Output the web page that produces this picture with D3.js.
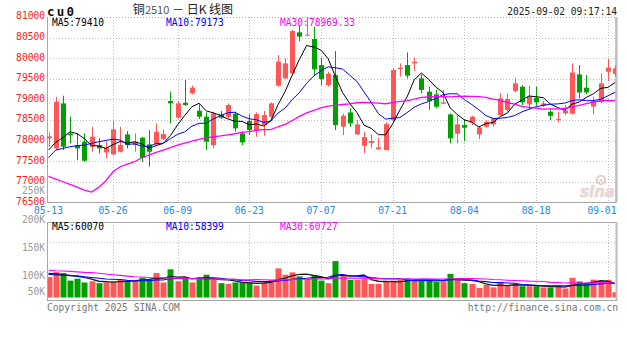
<!DOCTYPE html>
<html>
<head>
<meta charset="utf-8">
<script src="https://cdn.jsdelivr.net/npm/d3@7"></script>
<style>
  html, body { margin: 0; padding: 0; background: #fff; }
  svg { display: block; }
  text { font-family: "DejaVu Sans Mono", "Liberation Mono", monospace; }
</style>
</head>
<body>
<svg id="chart" width="627" height="342"></svg>
<script>
// ---- trading days shown (cu0 daily) ----
const dates = [
  "05-13","05-14","05-15","05-16","05-19","05-20","05-21","05-22","05-23","05-26",
  "05-27","05-28","05-29","05-30","06-03","06-04","06-05","06-06","06-09","06-10",
  "06-11","06-12","06-13","06-16","06-17","06-18","06-19","06-20","06-23","06-24",
  "06-25","06-26","06-27","06-30","07-01","07-02","07-03","07-04","07-07","07-08",
  "07-09","07-10","07-11","07-14","07-15","07-16","07-17","07-18","07-21","07-22",
  "07-23","07-24","07-25","07-28","07-29","07-30","07-31","08-01","08-04","08-05",
  "08-06","08-07","08-08","08-11","08-12","08-13","08-14","08-15","08-18","08-19",
  "08-20","08-21","08-22","08-25","08-26","08-27","08-28","08-29","09-01","09-02"
];

const openPrices = [
  78055,77812,78904,78175,77893,77974,77853,77893,77715,77667,
  77732,78152,77893,78071,77910,77910,78039,78961,78557,78920,
  79147,78727,78581,77893,78638,78581,78654,78176,78476,78257,
  78379,78581,79333,79511,79633,80628,80555,80466,79835,79350,
  79592,78338,78686,78152,77877,77942,77796,77772,78500,79738,
  79835,79875,79511,79188,79123,78897,78638,78168,78379,78435,
  78152,78338,78395,78621,78743,79204,79309,78880,79042,78848,
  78702,78500,78662,78654,79608,79285,78824,78945,79673,79617
];
const highPrices = [
  78200,79066,79090,78580,78177,78177,78338,78056,77974,78476,
  78338,78233,78177,78095,78257,78419,78273,79188,78961,79471,
  79334,78880,78686,78702,78718,78905,78702,78233,78638,78686,
  78719,78929,80078,79997,80684,80806,81000,80765,80013,79673,
  80175,78654,78783,78500,78217,78152,78071,78444,79754,79875,
  80142,80013,79608,79309,79228,79228,78662,78605,78525,78605,
  78338,78492,78541,79147,79147,79528,79350,79334,79309,78961,
  78767,78702,78864,79875,79835,79592,79066,79633,79981,79819
];
const lowPrices = [
  77860,77772,77772,77935,77529,77489,77732,77692,77570,77651,
  77715,77812,77732,77489,77368,77893,78015,78419,78540,78848,
  79123,78525,77772,77812,78525,78540,78217,77893,78136,78096,
  78120,78540,79309,79495,79608,80418,80539,79592,79350,79309,
  78257,78136,78338,78136,77691,77812,77772,77772,78476,79552,
  79511,79689,79147,78743,78783,78880,77934,77934,77990,78379,
  78039,78314,78338,78605,78702,79171,78864,78743,78848,78816,
  78500,78444,78621,78638,79026,79123,78638,78905,79447,79552
];
const closePrices = [
  78103,78945,77853,78130,77812,77513,78096,77813,77829,78274,
  77893,77893,77974,77586,77732,78217,78160,78905,78905,78864,
  79285,78581,77974,78662,78557,78864,78298,77958,78257,78646,
  78621,78905,79916,79875,80660,80523,80571,79730,79495,79625,
  78379,78605,78419,78395,78087,77990,77837,78403,79713,79770,
  79576,79916,79228,78961,78824,78929,78055,78395,78314,78581,
  78322,78460,78536,79026,79010,79390,78929,79066,78929,78905,
  78603,78525,78732,79654,79169,79171,78961,79390,79770,79754
];
const volumes = [
  87000,108000,104000,72000,80000,64000,69000,61000,65000,68000,
  75000,72000,75000,84000,78000,104000,64000,120000,69000,80000,
  64000,84000,97000,75000,61000,58000,64000,65000,65000,51000,
  64000,75000,124000,97000,107000,90000,80000,94000,72000,61000,
  155000,94000,75000,75000,80000,58000,58000,69000,72000,75000,
  80000,78000,78000,72000,66000,69000,100820,76000,61000,58000,
  41000,54000,43000,65000,51000,58000,48000,48000,48000,43000,
  42500,50700,38500,83800,68140,58000,76000,70000,74000,22350
];

// moving-average values for the first days, whose windows start before 05-13
const ma5Lead  = [77772,77958,78071,78217];
const ma10Lead = [77586,77772,77812,77853,77877,77893,77934,77974,78006];
const ma30Lead = [77133,77068,77003,76939,76874,76800,76752,76866,77028,77246,
                  77368,77432,77489,77586,77651,77715,77772,77829,77893,77940,
                  77990,78030,78070,78095,78115,78140,78168,78201,78217];
const volMa5Lead  = [103000,100000,97000,94000];
const volMa10Lead = [98000,97000,95000,93000,92000,88000,85000,82000,79000];
const volMa30Lead = [116000,114000,113000,111000,109000,107000,106000,103000,100000,97000,
                     94000,91000,88000,87000,85000,84000,84000,82000,82000,81000,
                     81000,80000,80000,78000,78000,77000,77000,75000,75000];

const priceTicks = [81000,80500,80000,79500,79000,78500,78000,77500,77000,76500];
const dateTicks = ["05-13","05-26","06-09","06-23","07-07","07-21","08-04","08-18","09-01"];
const volTicks = [250000,200000,150000,100000,50000];
const volTickText = ["250K","200K","150K","100K","50K"];

const priceMaText = ["MA5:79410","MA10:79173","MA30:78969.33"];
const volMaText = ["MA5:60070","MA10:58399","MA30:60727"];

// ---- layout ----
const plotL = 47, plotR = 616;
const priceTop = 17, priceBottom = 202.5;
const volTop = 222, volBottom = 300, volBase = 297.5;

const RED = "#ff5757", GREEN = "#00a000";
const MA_COLORS = ["#000000", "#0000ff", "#ff00ff"];
const GRID = "#bdbdbd";

const svg = d3.select("#chart");

const x = d3.scalePoint().domain(dates).range([48.5, 615]);
const y = d3.scaleLinear().domain([76500, 81000]).range([priceBottom, priceTop]);
const yVol = d3.scaleLinear().domain([0, 100000]).range([volBase, volBase - 23.5]);
// the volume axis labels sit at fixed slots down the left margin
const yVolLabel = d3.scaleLinear().domain([50000,100000,150000,200000,250000]).range([292,276,248,220,191]);

function movingAverage(values, n, lead) {
  return values.map((_, i) => i < n - 1 ? lead[i] : d3.mean(values.slice(i - n + 1, i + 1)));
}

const defs = svg.append("defs");
defs.append("clipPath").attr("id", "clipPrice")
  .append("rect").attr("x", plotL).attr("y", priceTop - 4).attr("width", plotR - plotL).attr("height", priceBottom - priceTop + 4);
defs.append("clipPath").attr("id", "clipVol")
  .append("rect").attr("x", plotL).attr("y", volTop).attr("width", plotR - plotL).attr("height", volBottom - volTop);

// ---- header ----
svg.append("text").attr("x", 47).attr("y", 15.5)
  .attr("font-size", 12.5).attr("font-weight", "bold").attr("letter-spacing", 2.2)
  .attr("fill", "#111").text("cu0");

const title = svg.append("text").attr("x", 183).attr("y", 13.5).attr("text-anchor", "middle")
  .attr("font-size", 12).attr("fill", "#222")
  .style("font-family", "'Noto Sans CJK SC', sans-serif");
title.append("tspan").text("铜");
title.append("tspan").attr("fill", "#555").attr("font-size", 11).text("2510");
title.append("tspan").text(" － 日K 线图");

svg.append("text").attr("x", 617).attr("y", 15).attr("text-anchor", "end")
  .attr("font-size", 9.6).attr("fill", "#222").text("2025-09-02 09:17:14");

// ---- price panel grid ----
const gPrice = svg.append("g");
gPrice.selectAll("line.h").data(priceTicks.slice(1, -1)).join("line")
  .attr("x1", plotL).attr("x2", plotR)
  .attr("y1", d => Math.round(y(d)) + 0.5).attr("y2", d => Math.round(y(d)) + 0.5)
  .attr("stroke", GRID).attr("stroke-dasharray", "1,2");
gPrice.selectAll("line.v").data(dateTicks.slice(1)).join("line")
  .attr("x1", d => Math.round(x(d)) + 0.5).attr("x2", d => Math.round(x(d)) + 0.5)
  .attr("y1", priceTop).attr("y2", priceBottom)
  .attr("stroke", GRID).attr("stroke-dasharray", "1,2");
// frame: dotted top edge, solid remaining edges
gPrice.append("line").attr("x1", plotL).attr("x2", plotR).attr("y1", priceTop + 0.5).attr("y2", priceTop + 0.5)
  .attr("stroke", "#aaa").attr("stroke-dasharray", "1,2");
gPrice.append("path")
  .attr("d", `M${plotL + 0.5},${priceTop}V${priceBottom}H${plotR}V${priceTop}`)
  .attr("fill", "none").attr("stroke", "#a8a8a8").attr("stroke-width", 1);
gPrice.append("line").attr("x1", plotR + 0.5).attr("x2", plotR + 0.5).attr("y1", priceTop).attr("y2", priceBottom)
  .attr("stroke", "#bbb").attr("stroke-width", 2);

// price axis labels
svg.append("g").selectAll("text").data(priceTicks).join("text")
  .attr("x", 45).attr("y", d => y(d) - 1).attr("dy", "0.35em").attr("text-anchor", "end")
  .attr("font-size", 9.6).attr("fill", "#ff1a1a").text(d => d);

// date labels, kept inside the frame on the right
svg.append("g").selectAll("text").data(dateTicks).join("text")
  .attr("x", d => Math.min(x(d), plotR - 14)).attr("y", 214)
  .attr("text-anchor", "middle").attr("font-size", 9.6).attr("fill", "#1e88e5").text(d => d);

// watermark
const wm = svg.append("g").attr("opacity", 0.75);
wm.append("circle").attr("cx", 601).attr("cy", 180).attr("r", 4.2).attr("fill", "none").attr("stroke", "#e7a3a3").attr("stroke-width", 1.6);
wm.append("circle").attr("cx", 601).attr("cy", 180.5).attr("r", 1.6).attr("fill", "#c9c9c9");
wm.append("text").attr("x", 615).attr("y", 197).attr("text-anchor", "end")
  .attr("font-size", 15).attr("font-style", "italic").attr("font-weight", "bold")
  .style("font-family", "'DejaVu Sans', sans-serif")
  .attr("fill", "#f1c3c3").attr("stroke", "#d0d0d0").attr("stroke-width", 0.6).text("sina");

// ---- candles ----
const idx = d3.range(dates.length);
const gCandle = svg.append("g").attr("clip-path", "url(#clipPrice)");
const isUp = i => closePrices[i] >= openPrices[i];
const cx = i => Math.round(x(dates[i]));

gCandle.selectAll("line").data(idx).join("line")
  .attr("x1", i => cx(i) + 0.5).attr("x2", i => cx(i) + 0.5)
  .attr("y1", i => y(highPrices[i])).attr("y2", i => y(lowPrices[i]))
  .attr("stroke", i => isUp(i) ? RED : GREEN).attr("stroke-width", 1);
gCandle.selectAll("rect").data(idx).join("rect")
  .attr("x", i => cx(i) - 2).attr("width", 5)
  .attr("y", i => y(Math.max(openPrices[i], closePrices[i])))
  .attr("height", i => Math.max(1, Math.abs(y(openPrices[i]) - y(closePrices[i]))))
  .attr("fill", i => isUp(i) ? RED : GREEN);

// price moving averages
const priceMas = [
  movingAverage(closePrices, 5, ma5Lead),
  movingAverage(closePrices, 10, ma10Lead),
  movingAverage(closePrices, 30, ma30Lead)
];
const priceLine = d3.line().x((d, i) => x(dates[i])).y(d => y(d));
gCandle.selectAll("path.ma").data(priceMas).join("path")
  .attr("d", priceLine).attr("fill", "none")
  .attr("stroke", (d, k) => MA_COLORS[k]).attr("stroke-width", (d, k) => k === 2 ? 1.3 : 1);

// MA captions
const maX = [52, 166, 280];
svg.append("g").selectAll("text").data(priceMaText).join("text")
  .attr("x", (d, k) => maX[k]).attr("y", 26).attr("font-size", 9.6)
  .attr("fill", (d, k) => MA_COLORS[k]).text(d => d);

// ---- volume panel ----
const gVolGrid = svg.append("g");
gVolGrid.selectAll("line.h").data([20, 40]).join("line")
  .attr("x1", plotL).attr("x2", plotR)
  .attr("y1", o => volTop + o + 0.5).attr("y2", o => volTop + o + 0.5)
  .attr("stroke", GRID).attr("stroke-dasharray", "1,2");
gVolGrid.selectAll("line.v").data(dateTicks.slice(1)).join("line")
  .attr("x1", d => Math.round(x(d)) + 0.5).attr("x2", d => Math.round(x(d)) + 0.5)
  .attr("y1", volTop).attr("y2", volBottom)
  .attr("stroke", GRID).attr("stroke-dasharray", "1,2");

const gVol = svg.append("g").attr("clip-path", "url(#clipVol)");
gVol.selectAll("rect").data(idx).join("rect")
  .attr("x", i => cx(i) - 2.5).attr("width", 6)
  .attr("y", i => yVol(volumes[i]))
  .attr("height", i => yVol(0) - yVol(volumes[i]))
  .attr("fill", i => isUp(i) ? RED : GREEN);

const volMas = [
  movingAverage(volumes, 5, volMa5Lead),
  movingAverage(volumes, 10, volMa10Lead),
  movingAverage(volumes, 30, volMa30Lead)
];
const volLine = d3.line().x((d, i) => x(dates[i])).y(d => yVol(d));
gVol.selectAll("path.ma").data(volMas).join("path")
  .attr("d", volLine).attr("fill", "none")
  .attr("stroke", (d, k) => k === 0 ? "#222" : MA_COLORS[k]).attr("stroke-width", (d, k) => k === 0 ? 1.3 : 1.1);

svg.append("rect").attr("x", plotL + 0.5).attr("y", volTop + 0.5)
  .attr("width", plotR - plotL).attr("height", volBottom - volTop)
  .attr("fill", "none").attr("stroke", "#a8a8a8");
svg.append("line").attr("x1", plotR + 0.5).attr("x2", plotR + 0.5).attr("y1", volTop).attr("y2", volBottom + 0.5)
  .attr("stroke", "#bbb").attr("stroke-width", 2);

svg.append("g").selectAll("text").data(volTicks).join("text")
  .attr("x", 45).attr("y", d => yVolLabel(d)).attr("dy", "0.35em").attr("text-anchor", "end")
  .attr("font-size", 9.6).attr("fill", "#9a9a9a").text((d, k) => volTickText[k]);

svg.append("g").selectAll("text").data(volMaText).join("text")
  .attr("x", (d, k) => maX[k]).attr("y", 230).attr("font-size", 9.6)
  .attr("fill", (d, k) => MA_COLORS[k]).text(d => d);

// ---- footer ----
svg.append("text").attr("x", 47).attr("y", 311).attr("font-size", 9.6).attr("fill", "#777")
  .text("Copyright 2025 SINA.COM");
svg.append("text").attr("x", 618).attr("y", 311).attr("text-anchor", "end").attr("font-size", 9.6).attr("fill", "#777")
  .text("http://finance.sina.com.cn");
</script>
</body>
</html>
